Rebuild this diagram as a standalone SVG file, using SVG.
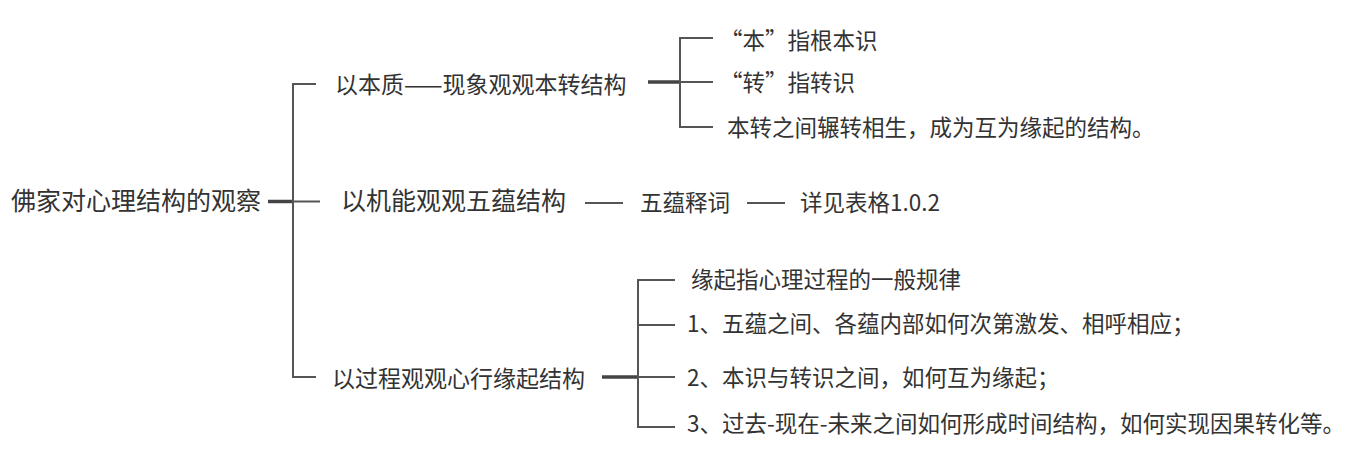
<svg xmlns="http://www.w3.org/2000/svg" width="1350" height="475" viewBox="0 0 1350 475">
<style>
text{font-family:"Noto Sans CJK SC","Microsoft YaHei",sans-serif;fill:#333;}
.r{font-size:25px}
.l2{font-size:23px}
.big{font-size:25px}
.l3{font-size:22.5px}
.ln{stroke:#555;stroke-width:2;fill:none}
.tk{stroke:#444;stroke-width:3.5;fill:none}
</style>
<rect width="1350" height="475" fill="#fff"/>
<g id="connectors">
<path class="tk" d="M268 201.5H293"/>
<path class="ln" d="M316 84H293V377H316M293 201.5H320"/>
<path class="tk" d="M648 82H680"/>
<path class="ln" d="M713 38H680V127H713M680 82H713"/>
<path class="ln" d="M585 203H623M747 203H785"/>
<path class="tk" d="M602 377H638"/>
<path class="ln" d="M675 280H638V427H675M638 325H675M638 377H675"/>
</g>
<g id="root"><text class="r" x="11" y="210">佛家对心理结构的观察</text></g>
<g id="n1"><text class="l2" x="335" y="93">以本质——现象观观本转结构</text></g>
<g id="n2"><text class="big" x="341" y="210">以机能观观五蕴结构</text></g>
<g id="n3"><text class="l2" x="332" y="387">以过程观观心行缘起结构</text></g>
<g id="n1a"><text class="l3" x="720" y="49">“本”指根本识</text></g>
<g id="n1b"><text class="l3" x="720" y="91">“转”指转识</text></g>
<g id="n1c"><text class="l3" x="727" y="136">本转之间辗转相生，成为互为缘起的结构。</text></g>
<g id="n2a"><text class="l3" x="640" y="211">五蕴释词</text></g>
<g id="n2b"><text class="l3" x="800" y="211">详见表格1.0.2</text></g>
<g id="n3a"><text class="l3" x="691" y="288">缘起指心理过程的一般规律</text></g>
<g id="n3b"><text class="l3" x="687" y="332">1、五蕴之间、各蕴内部如何次第激发、相呼相应；</text></g>
<g id="n3c"><text class="l3" x="687" y="386">2、本识与转识之间，如何互为缘起；</text></g>
<g id="n3d"><text class="l3" x="687" y="432">3、过去-现在-未来之间如何形成时间结构，如何实现因果转化等。</text></g>
</svg>
